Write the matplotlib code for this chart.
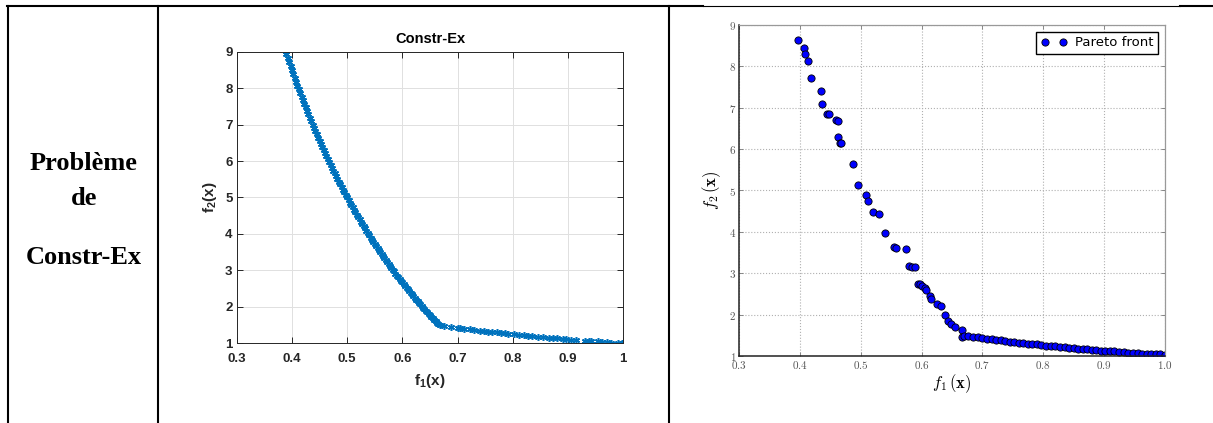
import matplotlib
matplotlib.use('Agg')
import matplotlib.pyplot as plt
from matplotlib.lines import Line2D
from matplotlib.ticker import FuncFormatter

# texte de la cellule gauche
row_title = ['Problème', 'de', 'Constr-Ex']

# graphe du milieu (MATLAB) : partie courbe (deux passes) puis partie plate
mid_f1_curve = [0.390, 0.395, 0.400, 0.405, 0.410, 0.415, 0.420, 0.425, 0.430, 0.435,
                0.440, 0.445, 0.450, 0.455, 0.460, 0.465, 0.470, 0.475, 0.480, 0.485,
                0.490, 0.495, 0.500, 0.505, 0.510, 0.515, 0.520, 0.525, 0.530, 0.535,
                0.540, 0.545, 0.550, 0.555, 0.560, 0.565, 0.570, 0.575, 0.580, 0.585,
                0.590, 0.595, 0.600, 0.605, 0.610, 0.615, 0.620, 0.625, 0.630, 0.635,
                0.640, 0.645, 0.650, 0.655, 0.660, 0.665]
mid_f2_curve = [8.95, 8.72, 8.50, 8.28, 8.07, 7.87, 7.67, 7.47, 7.28, 7.09,
                6.91, 6.73, 6.56, 6.38, 6.22, 6.05, 5.89, 5.74, 5.58, 5.43,
                5.29, 5.14, 5.00, 4.86, 4.73, 4.59, 4.46, 4.33, 4.21, 4.08,
                3.96, 3.84, 3.73, 3.61, 3.50, 3.39, 3.28, 3.17, 3.07, 2.97,
                2.86, 2.76, 2.67, 2.57, 2.48, 2.38, 2.29, 2.20, 2.11, 2.02,
                1.94, 1.85, 1.77, 1.69, 1.61, 1.53]
mid_f1_curve2 = [0.3925, 0.3975, 0.4025, 0.4075, 0.4125, 0.4175, 0.4225, 0.4275, 0.4325, 0.4375,
                 0.4425, 0.4475, 0.4525, 0.4575, 0.4625, 0.4675, 0.4725, 0.4775, 0.4825, 0.4875,
                 0.4925, 0.4975, 0.5025, 0.5075, 0.5125, 0.5175, 0.5225, 0.5275, 0.5325, 0.5375,
                 0.5425, 0.5475, 0.5525, 0.5575, 0.5625, 0.5675, 0.5725, 0.5775, 0.5825, 0.5875,
                 0.5925, 0.5975, 0.6025, 0.6075, 0.6125, 0.6175, 0.6225, 0.6275, 0.6325, 0.6375,
                 0.6425, 0.6475, 0.6525, 0.6575, 0.6625]
mid_f2_curve2 = [8.83, 8.61, 8.39, 8.18, 7.97, 7.77, 7.57, 7.37, 7.18, 7.00,
                 6.82, 6.64, 6.47, 6.30, 6.14, 5.97, 5.81, 5.66, 5.51, 5.36,
                 5.21, 5.07, 4.93, 4.79, 4.66, 4.53, 4.40, 4.27, 4.15, 4.02,
                 3.90, 3.79, 3.67, 3.56, 3.44, 3.33, 3.23, 3.12, 3.02, 2.91,
                 2.81, 2.72, 2.62, 2.52, 2.43, 2.34, 2.24, 2.16, 2.07, 1.98,
                 1.89, 1.81, 1.73, 1.65, 1.57]
mid_f1_flat = [0.668, 0.675, 0.688, 0.700, 0.705, 0.712, 0.722, 0.730, 0.740, 0.748,
               0.755, 0.763, 0.772, 0.778, 0.785, 0.792, 0.803, 0.812, 0.820, 0.828,
               0.835, 0.846, 0.855, 0.866, 0.873, 0.880, 0.890, 0.897, 0.905, 0.915,
               0.931, 0.937, 0.941, 0.955, 0.962, 0.970, 0.978, 0.990, 0.997, 1.000]
mid_f2_flat = [1.50, 1.48, 1.45, 1.43, 1.42, 1.40, 1.39, 1.37, 1.35, 1.34,
               1.32, 1.31, 1.30, 1.29, 1.27, 1.26, 1.25, 1.23, 1.22, 1.21,
               1.20, 1.18, 1.17, 1.15, 1.15, 1.14, 1.12, 1.11, 1.10, 1.09,
               1.07, 1.07, 1.06, 1.05, 1.04, 1.03, 1.02, 1.01, 1.00, 1.00]

# graphe de droite : front de Pareto
pf_f1 = [0.397, 0.407, 0.409, 0.413, 0.418, 0.435, 0.437, 0.445, 0.448, 0.459,
         0.462, 0.463, 0.466, 0.468, 0.487, 0.495, 0.508, 0.512, 0.520, 0.530,
         0.540, 0.554, 0.558, 0.574, 0.579, 0.584, 0.590, 0.594, 0.598, 0.601,
         0.605, 0.608, 0.614, 0.615, 0.625, 0.632, 0.638, 0.644, 0.649, 0.655,
         0.667, 0.667,
         0.670, 0.677, 0.685, 0.692, 0.700, 0.707, 0.715, 0.722, 0.730, 0.737,
         0.745, 0.752, 0.760, 0.767, 0.775, 0.782, 0.790, 0.797, 0.805, 0.812,
         0.820, 0.827, 0.835, 0.842, 0.850, 0.857, 0.865, 0.872, 0.880, 0.887,
         0.895, 0.902, 0.910, 0.917, 0.925, 0.932, 0.940, 0.947, 0.955, 0.962,
         0.970, 0.977, 0.985, 0.992, 1.000]
pf_f2 = [8.64, 8.45, 8.31, 8.13, 7.71, 7.41, 7.08, 6.86, 6.86, 6.70,
         6.69, 6.30, 6.14, 6.14, 5.63, 5.14, 4.88, 4.75, 4.47, 4.42,
         3.97, 3.63, 3.61, 3.59, 3.18, 3.15, 3.14, 2.74, 2.74, 2.70,
         2.64, 2.60, 2.46, 2.38, 2.25, 2.21, 2.00, 1.85, 1.77, 1.71,
         1.62, 1.47,
         1.49, 1.48, 1.46, 1.45, 1.43, 1.42, 1.40, 1.39, 1.38, 1.36,
         1.35, 1.34, 1.32, 1.31, 1.30, 1.29, 1.28, 1.27, 1.25, 1.24,
         1.23, 1.22, 1.21, 1.20, 1.19, 1.18, 1.17, 1.16, 1.15, 1.14,
         1.13, 1.12, 1.12, 1.11, 1.10, 1.09, 1.08, 1.08, 1.07, 1.06,
         1.05, 1.05, 1.04, 1.04, 1.03]

W, H = 1213, 423

plt.rcParams['mathtext.fontset'] = 'cm'
plt.rcParams['mathtext.bf'] = 'Liberation Sans:bold'
plt.rcParams['mathtext.rm'] = 'Liberation Sans'
plt.rcParams['mathtext.it'] = 'Liberation Sans:italic'


def px(x, y):
    # pixels -> coordonnees figure
    return x / W, 1 - y / H


fig = plt.figure(figsize=(W / 100, H / 100), dpi=100)

# --- lignes du tableau ---
def hline(x0, x1, y, lw):
    a, b = px(x0, y)
    c, _ = px(x1, y)
    fig.add_artist(Line2D([a, c], [b, b], color='black', lw=lw, transform=fig.transFigure))

def vline(x, y0, y1, lw):
    a, b = px(x, y0)
    _, d = px(x, y1)
    fig.add_artist(Line2D([a, a], [b, d], color='black', lw=lw, transform=fig.transFigure))

hline(7, 703, 6.5, 1.5)
hline(703, 1180, 6, 0.8)
hline(1180, 1213, 6.5, 1.5)
vline(8, 6, 423, 1.5)
vline(158, 6, 423, 1.5)
vline(669, 6, 423, 1.5)

# --- cellule gauche ---
for txt, yy in zip(row_title, [163, 198, 258]):
    fx, fy = px(84, yy)
    fig.text(fx, fy, txt, ha='center', va='center', fontsize=19,
             family='Liberation Serif', weight='bold')

# --- graphe du milieu (style MATLAB) ---
ax1 = fig.add_axes([236.7 / W, 1 - 343.3 / H, 386.6 / W, 291.6 / H])
mcol = '#0072BD'
star = (6, 2, 0)
for xs, ys in [(mid_f1_curve, mid_f2_curve), (mid_f1_curve2, mid_f2_curve2),
               (mid_f1_flat, mid_f2_flat)]:
    ax1.plot(xs, ys, ls='none', marker=star, ms=5, mew=1.1, color=mcol)
ax1.set_xlim(0.3, 1.0)
ax1.set_ylim(1, 9)
ax1.set_xticks([0.3, 0.4, 0.5, 0.6, 0.7, 0.8, 0.9, 1.0])
ax1.set_xticklabels(['0.3', '0.4', '0.5', '0.6', '0.7', '0.8', '0.9', '1'])
ax1.set_yticks(range(1, 10))
ax1.grid(True, color='#e0e0e0', lw=0.7)
ax1.set_axisbelow(True)
ax1.tick_params(direction='in', top=True, right=True, length=4, width=0.7,
                colors='#262626', labelsize=9.5, pad=3)
ax1.tick_params(axis='x', pad=7)
for lab in ax1.get_xticklabels() + ax1.get_yticklabels():
    lab.set_fontfamily('Liberation Sans')
    lab.set_fontweight('bold')
for s in ax1.spines.values():
    s.set_color('#262626')
    s.set_linewidth(0.7)
ax1.set_title('Constr-Ex', fontsize=10.5, family='Liberation Sans', weight='bold',
              color='black', pad=6)
ax1.set_xlabel(r'$\mathbf{f_1(x)}$', fontsize=11, color='#262626',
               math_fontfamily='custom', labelpad=5)
ax1.set_ylabel(r'$\mathbf{f_2(x)}$', fontsize=11, color='#262626',
               math_fontfamily='custom', labelpad=4)

# --- graphe de droite ---
ax2 = fig.add_axes([739 / W, 1 - 356 / H, 426 / W, 331 / H])
ax2.plot(pf_f1, pf_f2, ls='none', marker='o', ms=5.2, mfc='#0000ff', mec='black',
         mew=0.6, label='Pareto front')
ax2.set_xlim(0.3, 1.0)
ax2.set_ylim(1, 9)
ax2.set_xticks([0.3, 0.4, 0.5, 0.6, 0.7, 0.8, 0.9, 1.0])
ax2.set_yticks(range(1, 10))
ax2.xaxis.set_major_formatter(FuncFormatter(lambda v, p: r'$%.1f$' % v))
ax2.yaxis.set_major_formatter(FuncFormatter(lambda v, p: r'$%d$' % round(v)))
ax2.grid(True, ls=':', color='#b0b0b0', lw=0.8)
ax2.tick_params(direction='in', top=True, right=True, length=3, width=0.6,
                colors='#777777', labelcolor='#555555', labelsize=8, pad=2)
for k in ['left', 'bottom']:
    ax2.spines[k].set_color('#222222')
    ax2.spines[k].set_linewidth(1.1)
for k in ['top', 'right']:
    ax2.spines[k].set_color('#999999')
    ax2.spines[k].set_linewidth(0.9)
ax2.set_xlabel(r'$f_1\,(\mathbf{x})$', fontsize=12, labelpad=1)
ax2.set_ylabel(r'$f_2\,(\mathbf{x})$', fontsize=12, labelpad=4)
leg = ax2.legend(loc='upper right', numpoints=2, fancybox=False, framealpha=1,
                 edgecolor='black', prop={'family': 'DejaVu Sans', 'size': 9.5},
                 borderaxespad=0.5, handletextpad=0.6, borderpad=0.35)
leg.get_frame().set_linewidth(1.0)

fig.savefig('out.png', dpi=100)
